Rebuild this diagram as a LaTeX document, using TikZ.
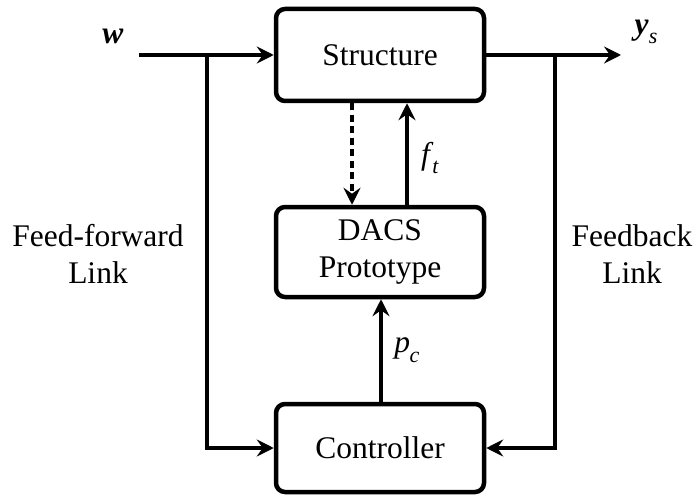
\documentclass[tikz,border=0pt]{standalone}
\usepackage{fontspec}
\setmainfont{Liberation Serif}
\usetikzlibrary{arrows.meta}
\newcommand\mysub[1]{\raisebox{-0.3em}{\fontsize{22}{22}\selectfont\textit{#1}}}
\begin{document}
\begin{tikzpicture}[x=1pt,y=-1pt,
  every node/.style={font=\fontsize{31.5}{37}\selectfont, inner sep=0pt},
  block/.style={draw, line width=4.5pt, rounded corners=9pt, minimum width=208pt, align=center},
  conn/.style={line width=3.6pt, -{Stealth[length=17pt,width=17pt,inset=6pt]}}
]
\useasboundingbox (0,0) rectangle (696,500);
\node[block, minimum height=92pt] (S) at (380,55) {Structure};
\node[block, minimum height=90pt] (D) at (380,252) {DACS\\Prototype};
\node[block, minimum height=88pt] (C) at (380,448) {Controller};

\coordinate (win) at (139,55);
\coordinate (b1) at (207,55);
\coordinate (yout) at (621,55);
\coordinate (b2) at (555,55);

\draw[conn] (win) -- (S.west);
\draw[conn] (b1) |- (C.west);
\draw[conn] (S.east) -- (yout);
\draw[conn] (b2) |- (C.east);
\draw[conn, dash pattern=on 7pt off 4.5pt] ([xshift=-28pt]S.south) -- ([xshift=-28pt]D.north);
\draw[conn] ([xshift=27pt]D.north) -- ([xshift=27pt]S.south);
\draw[conn] ([xshift=1pt]C.north) -- ([xshift=1pt]D.south);

\node (wl) at (113,36) {\textbf{\textit{w}}};
\node (yl) at (646,32) {\textbf{\textit{y}}\mysub{s}};
\node (fl) at (430,158) {\textit{f}\kern-1pt\mysub{t}};
\node (pl) at (407,350) {\textit{p}\kern-0.5pt\mysub{c}};
\node[align=center] (ff) at (98,254) {Feed-forward\\Link};
\node[align=center] (fb) at (632,254) {Feedback\\Link};
\end{tikzpicture}
\end{document}
